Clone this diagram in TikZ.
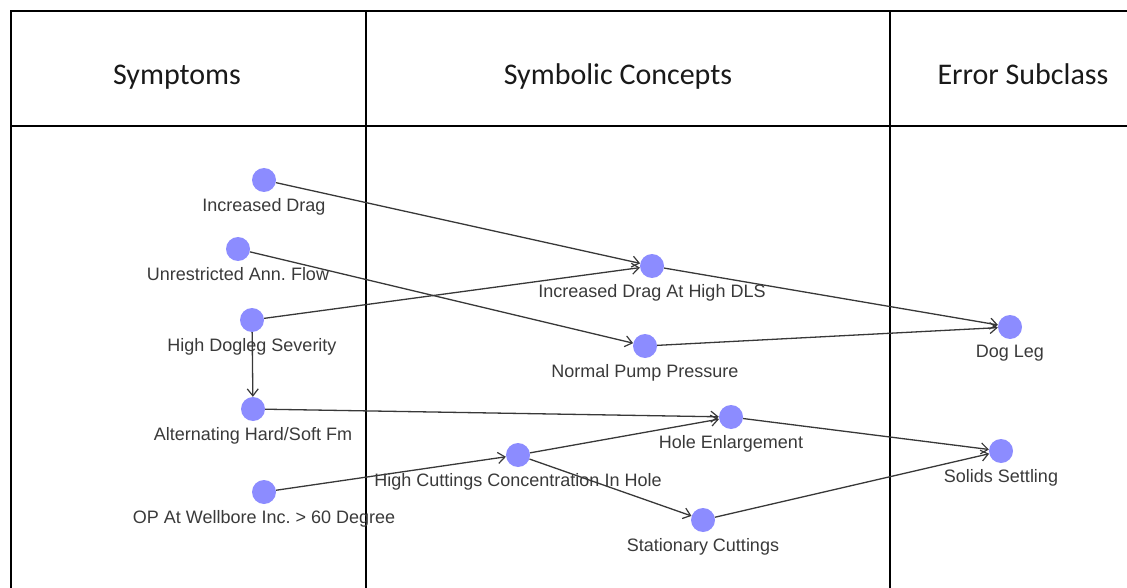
\documentclass[tikz,border=0pt]{standalone}
\usepackage{fontspec}
\setmainfont{Liberation Sans}
\newfontfamily\headfont{Carlito}
\usetikzlibrary{arrows.meta}
\definecolor{nodefill}{HTML}{8C8CFF}
\definecolor{labelgray}{HTML}{3A3A3A}
\definecolor{edgegray}{HTML}{383838}
\frenchspacing
\begin{document}
\begin{tikzpicture}[x=1pt,y=-1pt,
  concept/.style={circle,fill=nodefill,draw=none,minimum size=24pt,inner sep=0pt,
    label={[label distance=6pt,inner sep=0pt,text=labelgray,
            font=\fontsize{18}{20}\selectfont]below:#1}},
  link/.style={draw=edgegray,line width=1.3pt,-{Straight Barb[length=7pt,width=11pt,line width=1.2pt]}},
  grid/.style={draw=black,line width=1.5pt},
  head/.style={font=\headfont\fontsize{30}{33}\selectfont,text=black!90,inner sep=0pt,anchor=base}]
\useasboundingbox (0,0) rectangle (1127,588);

% table frame
\draw[grid] (11,588) -- (11,11) -- (1127,11);
\draw[grid] (11,126) -- (1127,126);
\draw[grid] (366,11) -- (366,588);
\draw[grid] (890,11) -- (890,588);

% column headings
\node[head] (hsym) at (177,85) {Symptoms};
\node[head] (hcon) at (618,85) {Symbolic Concepts};
\node[head] (herr) at (1023,85) {Error Subclass};

% symptoms
\node[concept={Increased Drag}] (drag) at (264,180) {};
\node[concept={Unrestricted Ann. Flow}] (flow) at (238,249) {};
\node[concept={High Dogleg Severity}] (hds) at (252,320) {};
\node[concept={Alternating Hard/Soft Fm}] (alt) at (253,409) {};
\node[concept={OP At Wellbore Inc. > 60 Degree}] (op) at (264,492) {};

% symbolic concepts
\node[concept={Increased Drag At High DLS}] (dls) at (652,266) {};
\node[concept={Normal Pump Pressure}] (npp) at (645,346) {};
\node[concept={Hole Enlargement}] (hole) at (731,417) {};
\node[concept={High Cuttings Concentration In Hole}] (hcc) at (518,455) {};
\node[concept={Stationary Cuttings}] (stat) at (703,520) {};

% error subclasses
\node[concept={Dog Leg}] (dog) at (1010,327) {};
\node[concept={Solids Settling}] (solid) at (1001,451) {};

% relations
\draw[link] (drag) -- (dls);
\draw[link] (hds) -- (dls);
\draw[link] (flow) -- (npp);
\draw[link] (hds) -- (alt);
\draw[link] (alt) -- (hole);
\draw[link] (op) -- (hcc);
\draw[link] (hcc) -- (hole);
\draw[link] (hcc) -- (stat);
\draw[link] (dls) -- (dog);
\draw[link] (npp) -- (dog);
\draw[link] (hole) -- (solid);
\draw[link] (stat) -- (solid);
\end{tikzpicture}
\end{document}
